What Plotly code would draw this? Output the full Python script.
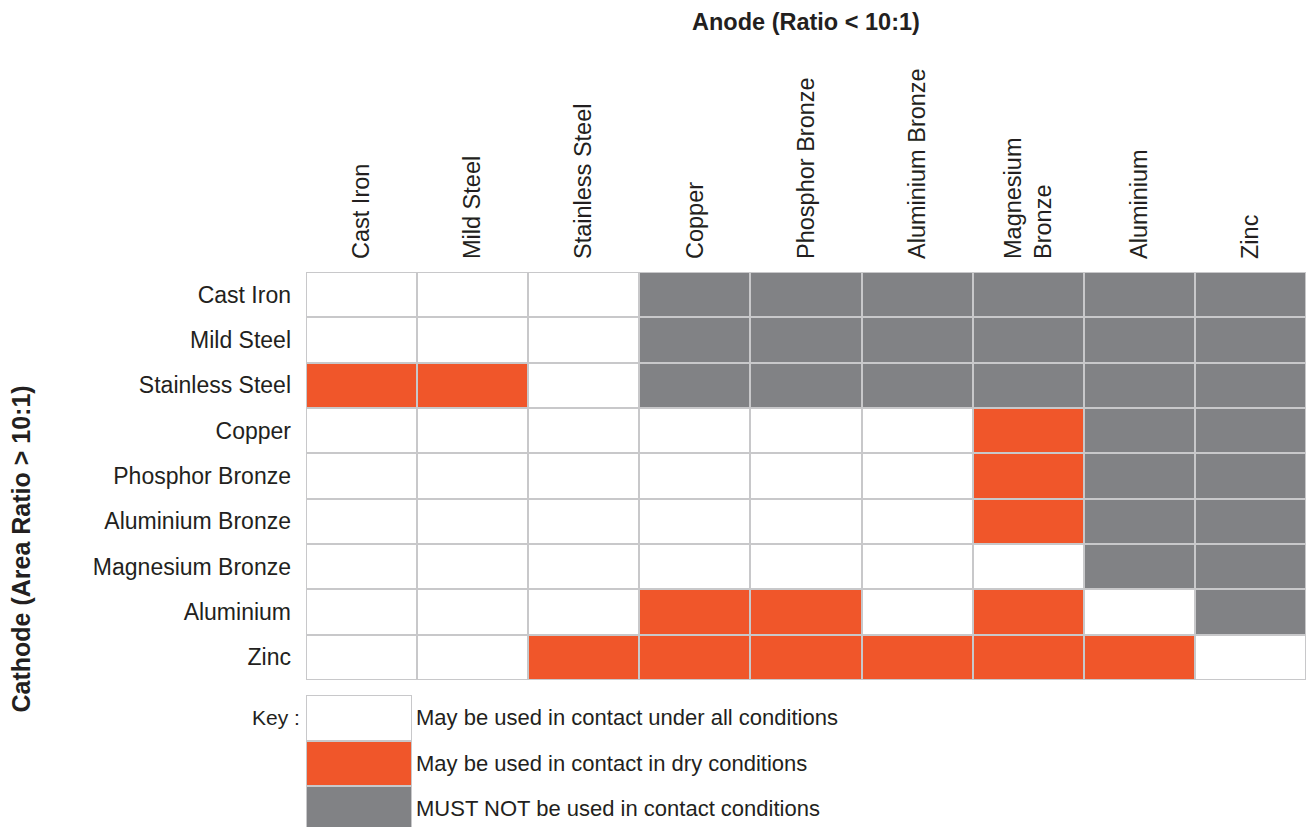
import plotly.graph_objects as go

anodes = ["Cast Iron", "Mild Steel", "Stainless Steel", "Copper", "Phosphor Bronze",
          "Aluminium Bronze", "Magnesium<br>Bronze", "Aluminium", "Zinc"]
cathodes = ["Cast Iron", "Mild Steel", "Stainless Steel", "Copper", "Phosphor Bronze",
            "Aluminium Bronze", "Magnesium Bronze", "Aluminium", "Zinc"]

# 0 = may be used under all conditions, 1 = dry conditions only, 2 = must not be used
compat = [
    [0, 0, 0, 2, 2, 2, 2, 2, 2],
    [0, 0, 0, 2, 2, 2, 2, 2, 2],
    [1, 1, 0, 2, 2, 2, 2, 2, 2],
    [0, 0, 0, 0, 0, 0, 1, 2, 2],
    [0, 0, 0, 0, 0, 0, 1, 2, 2],
    [0, 0, 0, 0, 0, 0, 1, 2, 2],
    [0, 0, 0, 0, 0, 0, 0, 2, 2],
    [0, 0, 0, 1, 1, 0, 1, 0, 2],
    [0, 0, 1, 1, 1, 1, 1, 1, 0],
]

key_codes = [0, 1, 2]
key_labels = ["May be used in contact under all conditions",
              "May be used in contact in dry conditions",
              "MUST NOT be used in contact conditions"]

WHITE = "#ffffff"
ORANGE = "#F0562A"
GREY = "#818285"
LINE = "#C8C8CA"
TEXT = "#231F20"
FONT = "Liberation Sans, Arial, sans-serif"

cscale = [[0, WHITE], [0.3333, WHITE], [0.3334, ORANGE], [0.6666, ORANGE],
          [0.6667, GREY], [1, GREY]]

W, H = 1309, 827
mt, mb, ml, mr = 272, 0, 306, 3
ph = H - mt - mb
grid_bottom = 680
key_top = 695

fig = go.Figure()
fig.add_trace(go.Heatmap(
    z=compat, x=list(range(len(anodes))), y=list(range(len(cathodes))),
    colorscale=cscale, zmin=0, zmax=2, showscale=False,
    xgap=2, ygap=2, hoverinfo="skip", xaxis="x", yaxis="y"))

fig.add_trace(go.Heatmap(
    z=[[c] for c in key_codes], x=[0], y=list(range(len(key_codes))),
    colorscale=cscale, zmin=0, zmax=2, showscale=False,
    xgap=2, ygap=2, hoverinfo="skip", xaxis="x2", yaxis="y2"))

main_y0 = (H - mb - grid_bottom) / ph
key_y1 = (H - mb - key_top) / ph
key_row_px = 45.5
key_rows_visible = (H - key_top) / key_row_px

fig.update_layout(
    width=W, height=H, autosize=False,
    margin=dict(t=mt, b=mb, l=ml, r=mr, pad=0, autoexpand=False),
    paper_bgcolor="white", plot_bgcolor=LINE,
    font=dict(family=FONT, size=23, color=TEXT),
    xaxis=dict(domain=[0, 1], side="top", tickmode="array",
               tickvals=list(range(len(anodes))), ticktext=anodes,
               tickangle=-90, showgrid=False, zeroline=False, ticks="",
               ticklabelstandoff=12, range=[-0.5, len(anodes) - 0.5],
               anchor="y", fixedrange=True, automargin=False,
               tickfont=dict(size=23.5)),
    yaxis=dict(domain=[main_y0, 1], tickmode="array",
               tickvals=list(range(len(cathodes))), ticktext=cathodes,
               range=[len(cathodes) - 0.5, -0.5], showgrid=False, zeroline=False,
               ticks="", ticklabelstandoff=14, anchor="x", fixedrange=True,
               automargin=False),
    xaxis2=dict(domain=[0, 106 / (W - ml - mr)], range=[-0.5, 0.5],
                showticklabels=False, showgrid=False, zeroline=False,
                anchor="y2", fixedrange=True, automargin=False),
    yaxis2=dict(domain=[0, key_y1], side="right", tickmode="array",
                tickvals=key_codes, ticktext=key_labels,
                range=[key_rows_visible - 0.5, -0.5],
                showgrid=False, zeroline=False, ticks="", ticklabelstandoff=3,
                anchor="x2", fixedrange=True, automargin=False,
                tickfont=dict(size=22)),
    annotations=[
        dict(text="<b>Anode (Ratio < 10:1)</b>", xref="paper", yref="paper",
             x=0.5, y=(H - 22 - mb) / ph, xanchor="center", yanchor="middle",
             showarrow=False, font=dict(size=23.5)),
        dict(text="<b>Cathode (Area Ratio > 10:1)</b>", xref="paper", yref="paper",
             x=-(ml - 20) / (W - ml - mr), y=0.5, xanchor="center", yanchor="middle",
             textangle=-90, showarrow=False, font=dict(size=25)),
        dict(text="Key :", xref="x2", yref="y2", x=-0.5, y=0,
             xanchor="right", yanchor="middle", xshift=-4,
             showarrow=False, font=dict(size=21)),
    ],
)

fig.write_html("out.html", config={"displayModeBar": False},
               post_script="document.body.style.margin='0';"
                           "document.body.style.overflow='hidden';")
